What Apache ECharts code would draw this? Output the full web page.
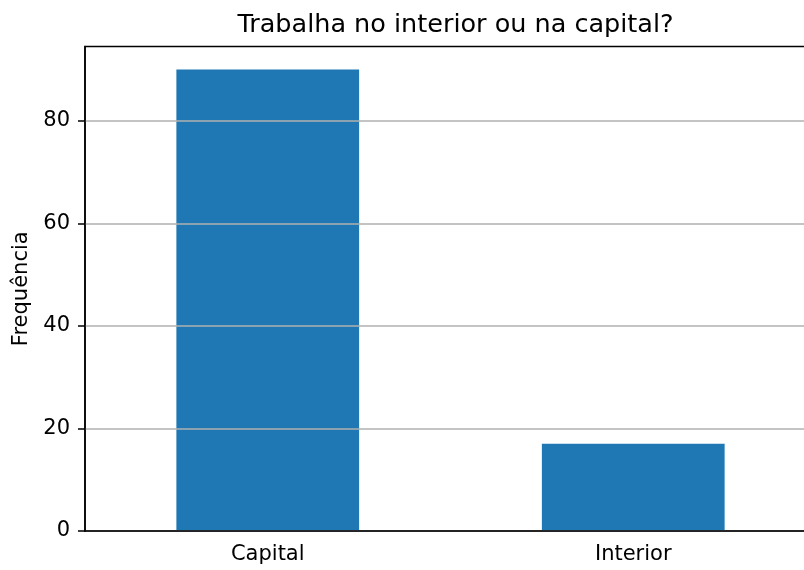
<!DOCTYPE html>
<html>
<head>
<meta charset="utf-8">
<script src="https://cdn.jsdelivr.net/npm/echarts@6/dist/echarts.min.js"></script>
<style>
html, body { margin: 0; padding: 0; background: #fff; }
#chart { width: 804px; height: 570px; }
</style>
</head>
<body>
<div id="chart"></div>
<script>
var categories = ['Capital', 'Interior'];
var frequencias = [90, 17];
var yTicks = [0, 20, 40, 60, 80];

var font = 'DejaVu Sans';
var chart = echarts.init(document.getElementById('chart'));

chart.setOption({
    animation: false,
    backgroundColor: '#fff',
    title: {
        text: 'Trabalha no interior ou na capital?',
        left: 450.5,
        textAlign: 'center',
        top: 7,
        textStyle: { fontFamily: font, fontSize: 25.5, fontWeight: 'normal', color: '#000' }
    },
    grid: {
        left: 85,
        top: 46.5,
        width: 731,
        bottom: 39,
        outerBoundsMode: 'none',
        containLabel: false,
        show: true,
        borderColor: '#000',
        borderWidth: 1.5
    },
    xAxis: {
        type: 'category',
        data: categories,
        boundaryGap: true,
        z: 5,
        axisLine: { lineStyle: { color: '#000', width: 1.5 } },
        axisTick: { alignWithLabel: true, length: 7, lineStyle: { color: '#000', width: 1.5 } },
        axisLabel: { fontFamily: font, fontSize: 21, color: '#000', margin: 13 },
        splitLine: { show: false }
    },
    yAxis: {
        type: 'value',
        min: 0,
        max: 94.5,
        interval: 20,
        z: 4,
        name: 'Frequência',
        nameLocation: 'middle',
        nameGap: 51,
        nameTextStyle: { fontFamily: font, fontSize: 21, color: '#000' },
        axisLine: { show: true, lineStyle: { color: '#000', width: 1.5 } },
        axisTick: { show: true, length: 7, customValues: yTicks, lineStyle: { color: '#000', width: 1.5 } },
        axisLabel: {
            fontFamily: font, fontSize: 21, color: '#000', margin: 15,
            customValues: yTicks
        },
        splitLine: { show: true, lineStyle: { color: '#b0b0b0', width: 1.5 } }
    },
    series: [{
        type: 'bar',
        data: frequencias,
        barWidth: '50%',
        itemStyle: { color: '#1f77b4' }
    }]
});
</script>
</body>
</html>
